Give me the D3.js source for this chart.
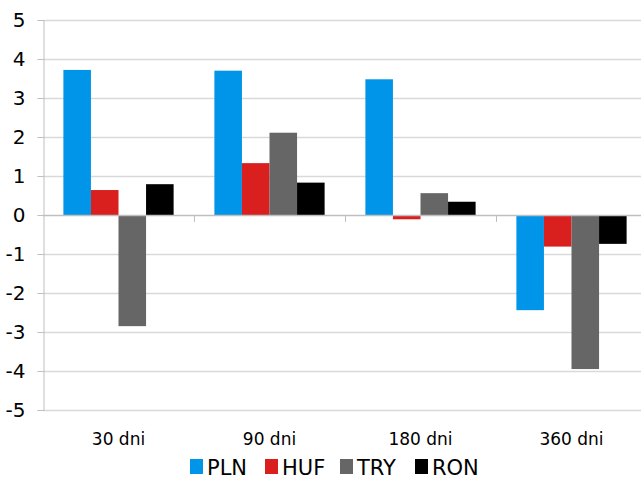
<!DOCTYPE html>
<html>
<head>
<meta charset="utf-8">
<script src="https://cdn.jsdelivr.net/npm/d3@7"></script>
<style>
  body { margin: 0; background: #fff; }
  svg { display: block; font-family: "DejaVu Sans", Verdana, sans-serif; }
</style>
</head>
<body>
<script>
// dane
var categories = ["30 dni", "90 dni", "180 dni", "360 dni"];
var seriesNames = ["PLN", "HUF", "TRY", "RON"];
var seriesColors = ["#0095e8", "#da1f1f", "#666666", "#000000"];
var PLN = [3.72, 3.70, 3.48, -2.44];
var HUF = [0.64, 1.33, -0.11, -0.81];
var TRY = [-2.85, 2.11, 0.56, -3.95];
var RON = [0.79, 0.83, 0.34, -0.74];
var yTicks = [-5, -4, -3, -2, -1, 0, 1, 2, 3, 4, 5];

var values = [PLN, HUF, TRY, RON];

var width = 641, height = 480;
// uwaga: "top" jest zajete przez window.top, stad inne nazwy
var plotLeft = 43, plotRight = 647, plotTop = 20, plotBottom = 410;

var svg = d3.select("body").append("svg").attr("width", width).attr("height", height);

var y = d3.scaleLinear().domain([-5, 5]).range([plotBottom, plotTop]);
var x = d3.scaleBand().domain(categories).range([plotLeft, plotRight]).paddingInner(0.27).paddingOuter(0.135);
var xs = d3.scaleBand().domain(seriesNames).range([0, x.bandwidth()]);

// linie siatki
svg.append("g").selectAll("line").data(yTicks.filter(d => d != 0)).join("line")
  .attr("x1", plotLeft).attr("x2", width)
  .attr("y1", d => y(d) + 0.5).attr("y2", d => y(d) + 0.5)
  .attr("stroke", "#d9d9d9").attr("stroke-width", 1.3);

// os Y (zwykly minus "-" jak w oryginale, nie unicode)
var yAxis = d3.axisLeft(y).tickValues(yTicks).tickSize(6).tickPadding(12).tickFormat(d => String(d));
var gy = svg.append("g").attr("transform", "translate(" + (plotLeft + 0.5) + ",0)").call(yAxis);
gy.select(".domain").attr("stroke", "#bfbfbf");
gy.selectAll(".tick line").attr("stroke", "#bfbfbf");
gy.selectAll(".tick text").attr("font-size", 20).attr("fill", "#000")
  .attr("font-family", "DejaVu Sans, Verdana, sans-serif");

// slupki
for (let i = 0; i < seriesNames.length; i++)
{
  svg.append("g").selectAll("rect").data(values[i]).join("rect")
    .attr("x", (d, j) => x(categories[j]) + xs(seriesNames[i]))
    .attr("width", xs.bandwidth())
    .attr("y", d => y(Math.max(0, d)))
    .attr("height", d => Math.abs(y(d) - y(0)))
    .attr("fill", seriesColors[i]);
}

// linia zera i znaczniki kategorii
svg.append("line").attr("x1", plotLeft).attr("x2", width)
  .attr("y1", y(0) + 0.5).attr("y2", y(0) + 0.5)
  .attr("stroke", "#bfbfbf").attr("stroke-width", 1.3);
svg.append("g").selectAll("line").data(categories.slice(1)).join("line")
  .attr("x1", d => x(d) - x.step() * x.paddingInner() / 2 + 0.5)
  .attr("x2", d => x(d) - x.step() * x.paddingInner() / 2 + 0.5)
  .attr("y1", y(0)).attr("y2", y(0) + 7)
  .attr("stroke", "#bfbfbf");

// etykiety kategorii
svg.append("g").selectAll("text").data(categories).join("text")
  .attr("x", d => x(d) + x.bandwidth() / 2)
  .attr("y", 445)
  .attr("text-anchor", "middle")
  .attr("font-size", 17)
  .text(d => d);

// legenda
var legend = svg.append("g").selectAll("g").data(seriesNames).join("g")
  .attr("transform", (d, i) => "translate(" + (190 + i * 75) + ",458)");
legend.append("rect").attr("width", 13).attr("height", 15).attr("y", 1)
  .attr("fill", (d, i) => seriesColors[i]);
legend.append("text").attr("x", 17).attr("y", 16.5).attr("font-size", 21).text(d => d);
</script>
</body>
</html>
